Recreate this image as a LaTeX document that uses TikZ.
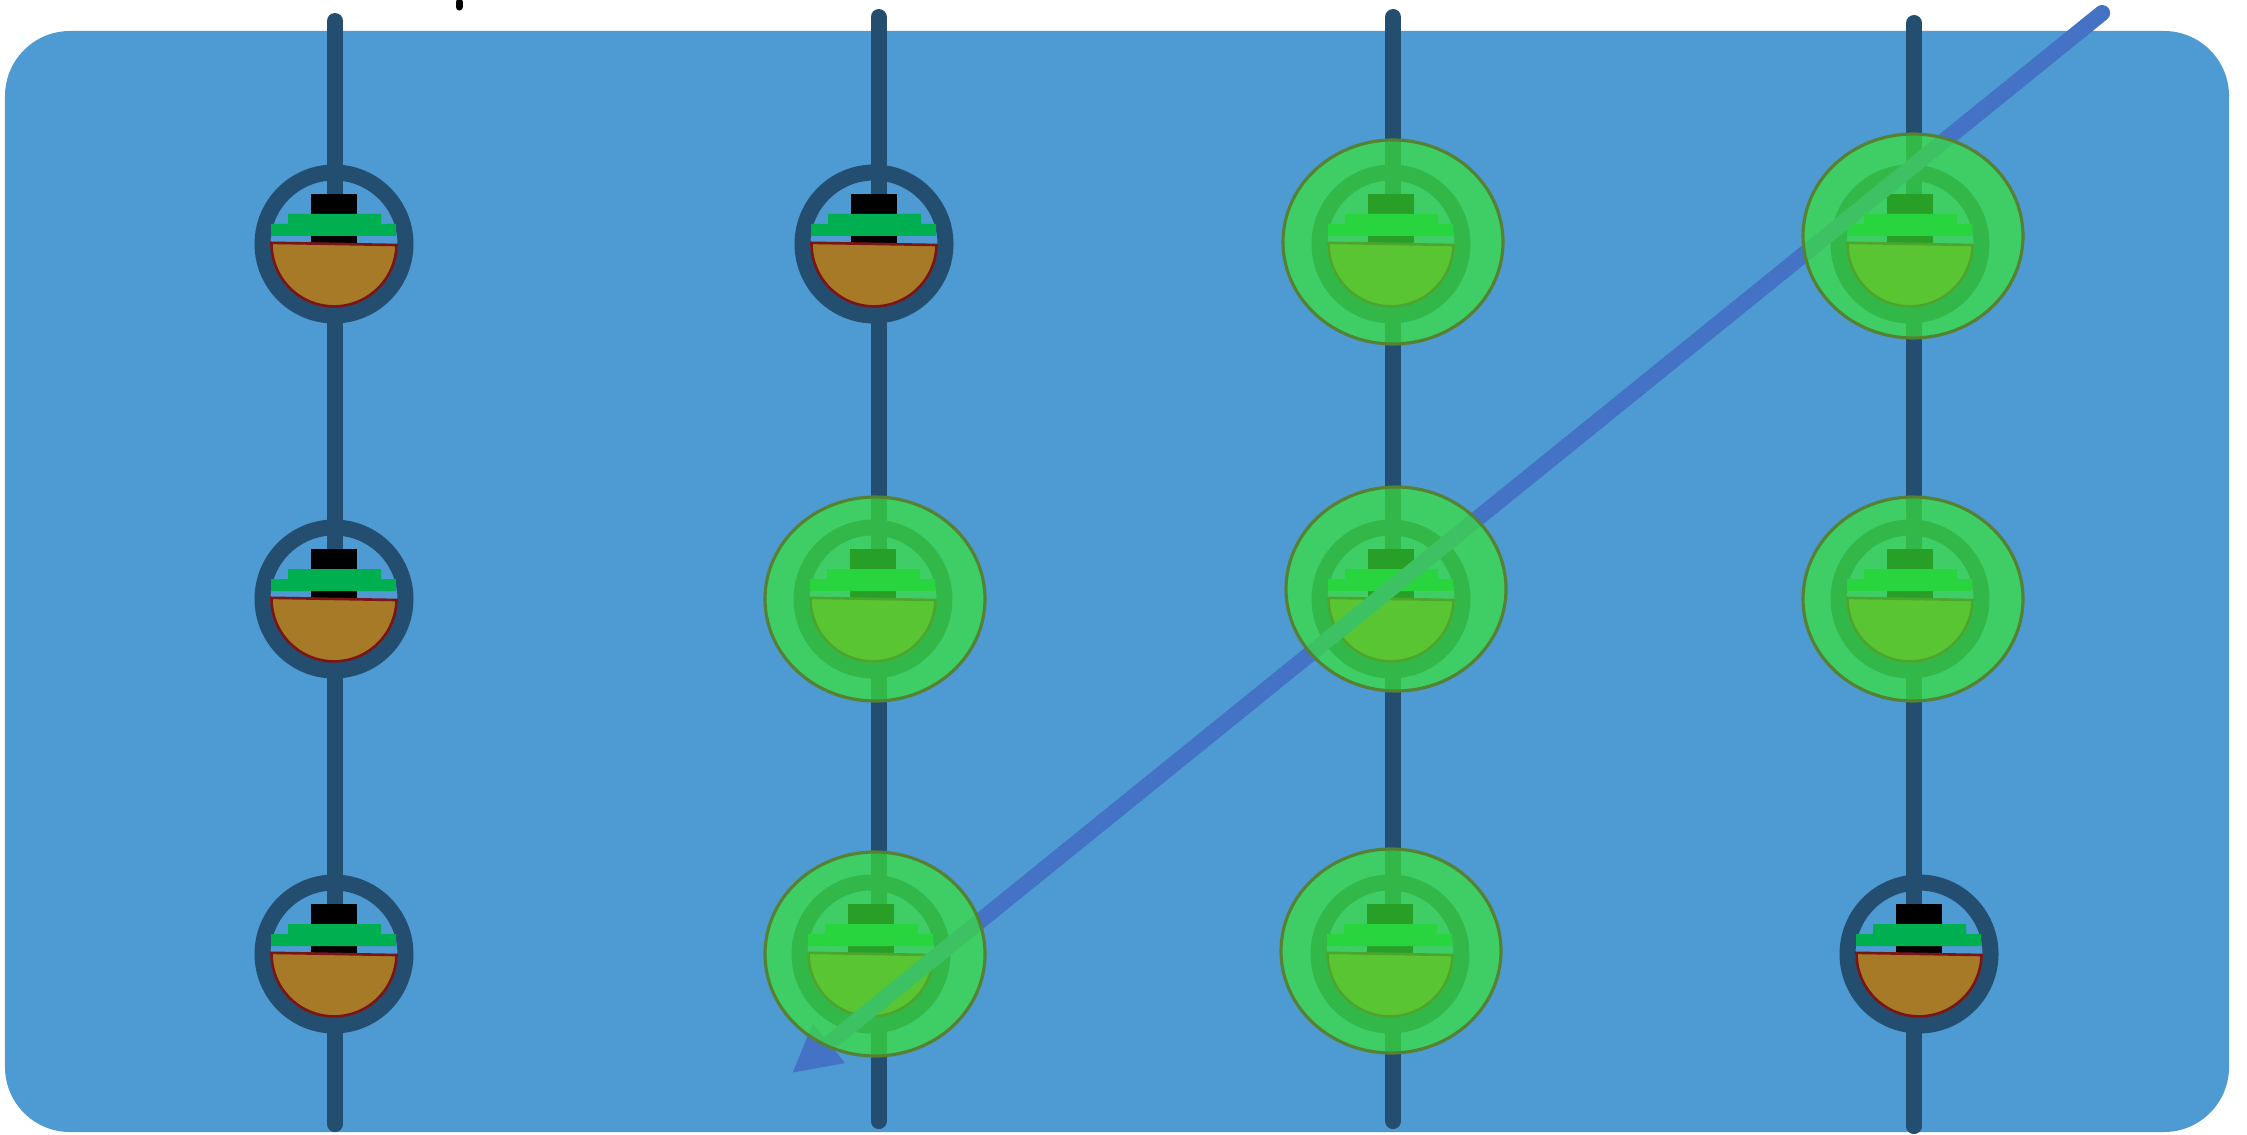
\documentclass[tikz,border=0pt]{standalone}
\usepackage{tikz}
\usetikzlibrary{arrows.meta}
\definecolor{panelblue}{HTML}{4E9AD2}
\definecolor{ringblue}{HTML}{244E70}
\definecolor{arrowblue}{HTML}{4472C4}
\definecolor{deckgreen}{HTML}{00B050}
\definecolor{hullbrown}{HTML}{A67A26}
\definecolor{hullred}{HTML}{7B1414}
\definecolor{halogreen}{RGB}{57,229,57}
\definecolor{haloedge}{HTML}{558232}
\begin{document}
\begin{tikzpicture}[scale=0.1]
\tikzstyle{bar}=[ringblue, line width=4.55pt, line cap=round]
\tikzstyle{ring}=[ringblue, line width=4.55pt]
\tikzstyle{deck}=[fill=deckgreen]
\tikzstyle{hull}=[fill=hullbrown, draw=hullred, line width=0.75pt]
\tikzstyle{halo}=[fill=halogreen, fill opacity=0.7, draw=haloedge, line width=0.9pt]
\useasboundingbox (0,0) rectangle (224.7,-113.5);
\fill [panelblue, rounded corners=6.5cm*0.1] (0.5,-3.1) rectangle (222.9,-113.2);
\coordinate (stubtop) at (45.9,-0.2);
\coordinate (stubend) at (45.9,-0.7);
\draw [black, line width=2pt, line cap=round] (stubtop) -- (stubend);
\coordinate (topa) at (33.5,-2.1);
\coordinate (bota) at (33.5,-112.4);
\coordinate (topb) at (87.85,-1.7);
\coordinate (botb) at (87.85,-112.1);
\coordinate (topc) at (139.3,-1.7);
\coordinate (botc) at (139.3,-112.1);
\coordinate (topd) at (191.4,-2.3);
\coordinate (botd) at (191.4,-112.6);
\draw [bar] (topa) -- (bota);
\draw [bar] (topb) -- (botb);
\draw [bar] (topc) -- (botc);
\draw [bar] (topd) -- (botd);
\draw [ring] (33.4,-24.4) circle (7.15);
\fill [black] (31.1,-19.4) rectangle (35.7,-24.3);
\fill [deck] (28.8,-21.4) rectangle (38.1,-23.6) (27.1,-22.4) rectangle (39.6,-23.6);
\draw [hull] (39.65,-24.5) arc[start angle=-1, end angle=-181, radius=6.25] -- cycle;
\draw [ring] (33.4,-59.9) circle (7.15);
\fill [black] (31.1,-54.9) rectangle (35.7,-59.8);
\fill [deck] (28.8,-56.9) rectangle (38.1,-59.1) (27.1,-57.9) rectangle (39.6,-59.1);
\draw [hull] (39.65,-60.0) arc[start angle=-1, end angle=-181, radius=6.25] -- cycle;
\draw [ring] (33.4,-95.4) circle (7.15);
\fill [black] (31.1,-90.4) rectangle (35.7,-95.3);
\fill [deck] (28.8,-92.4) rectangle (38.1,-94.6) (27.1,-93.4) rectangle (39.6,-94.6);
\draw [hull] (39.65,-95.5) arc[start angle=-1, end angle=-181, radius=6.25] -- cycle;
\draw [ring] (87.4,-24.4) circle (7.15);
\fill [black] (85.1,-19.4) rectangle (89.7,-24.3);
\fill [deck] (82.8,-21.4) rectangle (92.1,-23.6) (81.1,-22.4) rectangle (93.6,-23.6);
\draw [hull] (93.65,-24.5) arc[start angle=-1, end angle=-181, radius=6.25] -- cycle;
\draw [ring] (87.3,-59.9) circle (7.15);
\fill [black] (85.0,-54.9) rectangle (89.6,-59.8);
\fill [deck] (82.7,-56.9) rectangle (92.0,-59.1) (81.0,-57.9) rectangle (93.5,-59.1);
\draw [hull] (93.55,-60.0) arc[start angle=-1, end angle=-181, radius=6.25] -- cycle;
\draw [ring] (87.1,-95.4) circle (7.15);
\fill [black] (84.8,-90.4) rectangle (89.4,-95.3);
\fill [deck] (82.5,-92.4) rectangle (91.8,-94.6) (80.8,-93.4) rectangle (93.3,-94.6);
\draw [hull] (93.35,-95.5) arc[start angle=-1, end angle=-181, radius=6.25] -- cycle;
\draw [ring] (139.1,-24.4) circle (7.15);
\fill [black] (136.8,-19.4) rectangle (141.4,-24.3);
\fill [deck] (134.5,-21.4) rectangle (143.8,-23.6) (132.8,-22.4) rectangle (145.3,-23.6);
\draw [hull] (145.35,-24.5) arc[start angle=-1, end angle=-181, radius=6.25] -- cycle;
\draw [ring] (139.1,-59.9) circle (7.15);
\fill [black] (136.8,-54.9) rectangle (141.4,-59.8);
\fill [deck] (134.5,-56.9) rectangle (143.8,-59.1) (132.8,-57.9) rectangle (145.3,-59.1);
\draw [hull] (145.35,-60.0) arc[start angle=-1, end angle=-181, radius=6.25] -- cycle;
\draw [ring] (139.0,-95.4) circle (7.15);
\fill [black] (136.7,-90.4) rectangle (141.3,-95.3);
\fill [deck] (134.4,-92.4) rectangle (143.7,-94.6) (132.7,-93.4) rectangle (145.2,-94.6);
\draw [hull] (145.25,-95.5) arc[start angle=-1, end angle=-181, radius=6.25] -- cycle;
\draw [ring] (191.0,-24.4) circle (7.15);
\fill [black] (188.7,-19.4) rectangle (193.3,-24.3);
\fill [deck] (186.4,-21.4) rectangle (195.7,-23.6) (184.7,-22.4) rectangle (197.2,-23.6);
\draw [hull] (197.25,-24.5) arc[start angle=-1, end angle=-181, radius=6.25] -- cycle;
\draw [ring] (191.0,-59.9) circle (7.15);
\fill [black] (188.7,-54.9) rectangle (193.3,-59.8);
\fill [deck] (186.4,-56.9) rectangle (195.7,-59.1) (184.7,-57.9) rectangle (197.2,-59.1);
\draw [hull] (197.25,-60.0) arc[start angle=-1, end angle=-181, radius=6.25] -- cycle;
\draw [ring] (191.9,-95.4) circle (7.15);
\fill [black] (189.6,-90.4) rectangle (194.2,-95.3);
\fill [deck] (187.3,-92.4) rectangle (196.6,-94.6) (185.6,-93.4) rectangle (198.1,-94.6);
\draw [hull] (198.15,-95.5) arc[start angle=-1, end angle=-181, radius=6.25] -- cycle;
\coordinate (arrowstart) at (210.2,-1.3);
\coordinate (arrowtip) at (79.2,-107.3);
\draw [arrowblue, line width=4.55pt, line cap=round, -{Triangle[length=13.5pt, width=13.5pt]}] (arrowstart) -- (arrowtip);
\draw [halo] (87.5,-59.9) ellipse [x radius=11, y radius=10.2];
\draw [halo] (87.5,-95.4) ellipse [x radius=11, y radius=10.2];
\draw [halo] (139.3,-24.2) ellipse [x radius=11, y radius=10.2];
\draw [halo] (139.6,-58.9) ellipse [x radius=11, y radius=10.2];
\draw [halo] (139.1,-95.1) ellipse [x radius=11, y radius=10.2];
\draw [halo] (191.3,-23.6) ellipse [x radius=11, y radius=10.2];
\draw [halo] (191.3,-59.9) ellipse [x radius=11, y radius=10.2];
\end{tikzpicture}
\end{document}
